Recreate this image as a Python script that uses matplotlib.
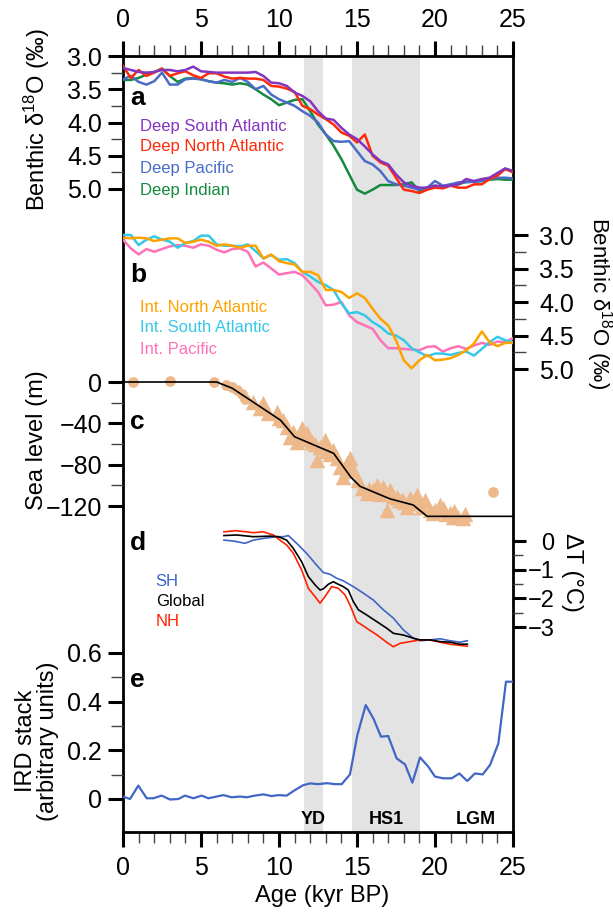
import numpy as np
import matplotlib.pyplot as plt

plt.rcParams['font.family'] = ['Liberation Sans', 'DejaVu Sans']
plt.rcParams['mathtext.fontset'] = 'custom'
plt.rcParams['mathtext.rm'] = 'Liberation Sans'
plt.rcParams['mathtext.it'] = 'Liberation Sans:italic'

# ---- data ----
age_ab = [0, 0.5, 1, 1.5, 2, 2.5, 3, 3.5, 4, 4.5, 5, 5.5, 6, 6.5, 7, 7.5, 8, 8.5, 9, 9.5,
          10, 10.5, 11, 11.5, 12, 12.5, 13, 13.5, 14, 14.5, 15, 15.5, 16, 16.5, 17, 17.5,
          18, 18.5, 19, 19.5, 20, 20.5, 21, 21.5, 22, 22.5, 23, 23.5, 24, 24.5, 25]

deep_s_atl = [3.18, 3.21, 3.24, 3.25, 3.24, 3.21, 3.21, 3.23, 3.21, 3.16, 3.23, 3.24, 3.25, 3.25,
              3.25, 3.25, 3.25, 3.24, 3.30, 3.40, 3.41, 3.45, 3.55, 3.60, 3.68, 3.83, 3.94, 3.96,
              4.08, 4.18, 4.25, 4.36, 4.48, 4.58, 4.63, 4.78, 4.90, 4.95, 4.98, 4.98, 4.95, 4.96,
              4.95, 4.93, 4.85, 4.88, 4.85, 4.83, 4.76, 4.69, 4.73]
deep_n_atl = [3.15, 3.33, 3.21, 3.30, 3.25, 3.19, 3.30, 3.26, 3.23, 3.29, 3.33, 3.26, 3.26, 3.31,
              3.34, 3.33, 3.34, 3.34, 3.36, 3.45, 3.46, 3.49, 3.54, 3.75, 3.80, 3.88, 3.95, 4.03,
              4.15, 4.20, 4.30, 4.18, 4.50, 4.60, 4.65, 4.83, 5.01, 5.03, 5.06, 5.01, 4.98, 4.99,
              4.95, 4.98, 4.98, 4.93, 4.93, 4.85, 4.80, 4.70, 4.75]
deep_pac = [3.35, 3.30, 3.39, 3.43, 3.38, 3.25, 3.43, 3.43, 3.35, 3.34, 3.35, 3.38, 3.40, 3.36,
            3.39, 3.33, 3.39, 3.50, 3.45, 3.58, 3.65, 3.70, 3.75, 3.83, 3.90, 4.00, 4.18, 4.28,
            4.29, 4.28, 4.43, 4.58, 4.63, 4.73, 4.88, 4.93, 4.95, 4.98, 5.01, 4.98, 4.88, 4.95,
            4.93, 4.90, 4.90, 4.89, 4.88, 4.85, 4.83, 4.83, 4.84]
deep_ind = [3.36, 3.36, 3.33, 3.28, 3.24, 3.19, 3.30, 3.39, 3.34, 3.33, 3.35, 3.38, 3.40, 3.41,
            3.43, 3.41, 3.43, 3.50, 3.58, 3.65, 3.74, 3.70, 3.66, 3.65, 3.83, 4.03, 4.18, 4.35,
            4.55, 4.78, 5.01, 5.07, 5.01, 4.94, 4.94, 4.94, 4.93, 4.90, 5.03, 4.98, 4.95, 4.98,
            4.93, 4.93, 4.89, 4.89, 4.88, 4.86, 4.85, 4.86, 4.86]

int_n_atl = [3.04, 3.05, 3.04, 3.05, 3.09, 3.07, 3.05, 3.05, 3.12, 3.10, 3.07, 3.10, 3.16, 3.14,
             3.16, 3.19, 3.16, 3.16, 3.35, 3.29, 3.39, 3.42, 3.44, 3.55, 3.55, 3.60, 3.82, 3.82,
             3.85, 3.94, 3.87, 3.94, 4.10, 4.25, 4.35, 4.57, 4.87, 4.99, 4.87, 4.79, 4.87, 4.86,
             4.84, 4.79, 4.72, 4.62, 4.44, 4.60, 4.66, 4.61, 4.61]
int_s_atl = [3.00, 3.00, 3.15, 3.07, 3.02, 3.07, 3.10, 3.19, 3.12, 3.09, 3.01, 3.01, 3.14, 3.16,
             3.16, 3.17, 3.14, 3.24, 3.35, 3.30, 3.37, 3.36, 3.42, 3.55, 3.62, 3.70, 3.75, 3.82,
             4.02, 4.17, 4.15, 4.20, 4.30, 4.37, 4.47, 4.50, 4.57, 4.69, 4.75, 4.81, 4.77, 4.77,
             4.79, 4.76, 4.74, 4.80, 4.70, 4.60, 4.52, 4.57, 4.60]
int_pac = [3.07, 3.20, 3.29, 3.21, 3.25, 3.21, 3.17, 3.15, 3.16, 3.19, 3.14, 3.16, 3.22, 3.26,
           3.21, 3.20, 3.25, 3.47, 3.41, 3.50, 3.59, 3.57, 3.55, 3.60, 3.72, 3.85, 4.05, 4.04,
           4.00, 4.20, 4.30, 4.35, 4.40, 4.57, 4.69, 4.69, 4.70, 4.71, 4.72, 4.67, 4.66, 4.74,
           4.69, 4.66, 4.70, 4.65, 4.61, 4.64, 4.59, 4.60, 4.54]

sl_age = [0, 6.0, 7.0, 10.1, 11.0, 13.5, 14.6, 15.2, 17.1, 18.6, 19.5, 25]
sl_val = [0, 0, -6, -37, -53, -69, -92, -101, -113, -119, -130, -130]
circ_age = [0.66, 3.0, 5.83, 6.6, 7.0, 7.3, 7.6, 7.8, 23.7]
circ_val = [0, 1, 0, -3, -5, -8, -12, -16, -106]
tri_age = [8.35, 8.78, 9.0, 9.32, 9.85, 10.0, 10.28, 10.49, 10.7, 10.92, 11.13, 11.3, 11.45,
           11.77, 11.9, 12.09, 12.3, 12.42, 12.63, 12.95, 13.0, 13.16, 13.3, 13.48, 13.7, 13.91,
           14.12, 14.3, 14.34, 14.55, 14.76, 15.09, 15.3, 15.62, 15.8, 16.05, 16.26, 16.5, 16.69,
           16.9, 17.12, 17.3, 17.54, 17.7, 17.86, 18.0, 18.18, 18.4, 18.61, 18.82, 19.0, 19.15,
           19.36, 19.68, 19.9, 20.0, 20.32, 20.53, 20.7, 20.96, 21.18, 21.2, 21.5, 21.82, 21.9]
tri_val = [-19, -25.5, -20.7, -30.3, -28.7, -35, -36.8, -43.2, -52.9, -48.1, -57.8, -52, -44.9,
           -49.7, -55, -57.8, -60, -75.5, -62.6, -56.1, -67, -65.8, -70, -65.8, -73.9, -81.9,
           -91.6, -86, -78.7, -73.9, -85.2, -94.9, -102.9, -107.8, -104, -104.6, -99.7, -108,
           -101.3, -123.9, -104.6, -110, -111, -114, -114.2, -116, -120.7, -112.6, -115.8,
           -109.4, -117, -120.7, -114.2, -123.9, -127, -123.9, -119.1, -122.3, -128, -127.1,
           -130.4, -125, -130.4, -132, -128]

gl_age = [6.47, 7.29, 8.35, 9.42, 9.96, 10.49, 10.92, 11.45, 11.88, 12.31, 12.63, 12.84, 13.16,
          13.48, 13.8, 14.12, 14.44, 14.76, 15.09, 15.62, 16.26, 16.9, 17.33, 17.97, 18.61,
          19.04, 19.68, 20.32, 20.96, 21.6, 22.07]
gl_val = [0.19, 0.21, 0.15, 0.17, 0.15, 0.03, -0.26, -0.72, -1.24, -1.53, -1.71, -1.67, -1.51,
          -1.42, -1.51, -1.59, -1.71, -2.11, -2.40, -2.58, -2.81, -3.04, -3.22, -3.28, -3.39,
          -3.45, -3.45, -3.51, -3.53, -3.60, -3.60]
sh_age = [6.47, 7.07, 7.82, 8.35, 8.99, 9.85, 10.28, 10.6, 11.13, 11.77, 12.41, 12.84, 13.27,
          13.7, 14.12, 14.76, 15.41, 16.05, 16.69, 17.33, 17.97, 18.61, 19.04, 19.68, 20.32,
          20.96, 21.6, 22.07]
sh_val = [0.03, 0.0, -0.08, 0.03, 0.09, 0.15, 0.15, 0.19, -0.08, -0.43, -0.84, -1.10, -1.16,
          -1.30, -1.39, -1.59, -1.82, -2.06, -2.40, -2.69, -3.10, -3.39, -3.48, -3.45, -3.41,
          -3.48, -3.53, -3.48]
nh_age = [6.47, 7.18, 7.93, 8.35, 8.99, 9.64, 10.06, 10.49, 10.92, 11.45, 11.88, 12.31, 12.63,
          12.95, 13.38, 13.8, 14.23, 14.55, 14.98, 15.62, 16.26, 16.9, 17.33, 17.76, 18.4,
          19.04, 19.68, 20.32, 20.96, 21.6, 22.07]
nh_val = [0.32, 0.36, 0.32, 0.29, 0.32, 0.21, 0.03, -0.14, -0.43, -1.01, -1.65, -1.94, -2.17,
          -1.94, -1.59, -1.65, -1.88, -2.23, -2.81, -3.04, -3.27, -3.53, -3.69, -3.57, -3.51,
          -3.45, -3.45, -3.53, -3.60, -3.64, -3.67]

ird_age = [0, 0.45, 0.98, 1.52, 1.94, 2.48, 3.01, 3.55, 3.97, 4.51, 5.04, 5.47, 6.0, 6.43, 6.97,
           7.5, 7.93, 8.46, 9.0, 9.53, 9.96, 10.49, 11.03, 11.56, 11.99, 12.52, 13.06, 13.59,
           14.02, 14.55, 15.02, 15.56, 16.05, 16.54, 17.0, 17.54, 18.08, 18.55, 19.04, 19.57,
           20.0, 20.53, 21.07, 21.56, 22.07, 22.56, 23.06, 23.53, 24.06, 24.55, 25.0]
ird_val = [0.01, 0.0, 0.055, 0.003, 0.003, 0.014, -0.002, 0.0, 0.014, 0.003, 0.014, 0.003, 0.01,
           0.016, 0.007, 0.01, 0.007, 0.014, 0.019, 0.012, 0.016, 0.014, 0.037, 0.057, 0.064,
           0.061, 0.065, 0.061, 0.061, 0.101, 0.262, 0.386, 0.331, 0.256, 0.259, 0.167, 0.142,
           0.067, 0.171, 0.133, 0.092, 0.085, 0.085, 0.105, 0.074, 0.105, 0.101, 0.14, 0.228,
           0.482, 0.482]

yd = (11.6, 12.8)
hs1 = (14.7, 19.05)

# ---- layout (pixels) ----
W, H = 613, 915
L, R, T, B = 123, 513, 56, 832
rect = [L / W, 1 - B / H, (R - L) / W, (B - T) / H]
TS = 18  # tick label size

fig = plt.figure(figsize=(W / 100, H / 100), dpi=100)

main = fig.add_axes(rect)
main.set_xlim(0, 25)
main.set_ylim(B, T)  # y in pixel rows, for annotation placement
main.set_yticks([])
main.set_xticks([0, 5, 10, 15, 20, 25])
main.set_xticks(range(26), minor=True)
main.tick_params(axis='x', which='both', top=True, bottom=True, labeltop=True,
                 labelbottom=True, direction='out', labelsize=TS)
main.tick_params(axis='x', which='major', length=11, width=2.2, pad=6)
main.tick_params(axis='x', which='minor', length=8, width=1, color='#444444')
for s in main.spines.values():
    s.set_linewidth(2)
main.axvspan(*yd, color='#e3e3e3', lw=0, zorder=0)
main.axvspan(*hs1, color='#e3e3e3', lw=0, zorder=0)


def panel(v0, y0, v1, y1, side):
    a = fig.add_axes(rect)
    slope = (v1 - v0) / (y1 - y0)
    a.set_xlim(0, 25)
    a.set_ylim(v0 + (B - y0) * slope, v0 + (T - y0) * slope)
    a.patch.set_visible(False)
    for s in a.spines.values():
        s.set_visible(False)
    a.xaxis.set_visible(False)
    a.yaxis.set_ticks_position(side)
    a.tick_params(axis='y', which='both', direction='out', labelsize=TS)
    a.tick_params(axis='y', which='major', length=11, width=2.2, pad=4)
    a.tick_params(axis='y', which='minor', length=9, width=1, color='#444444')
    return a


# a: deep benthic d18O
pa = panel(3.0, 56, 5.0, 189, 'left')
pa.set_yticks([3.0, 3.5, 4.0, 4.5, 5.0], labels=['3.0', '3.5', '4.0', '4.5', '5.0'])
pa.set_yticks([3.25, 3.75, 4.25, 4.75], minor=True)
for vals, c in [(deep_ind, '#138a3e'), (deep_pac, '#4a6cc8'),
                (deep_n_atl, '#ff2a0a'), (deep_s_atl, '#8334c0')]:
    pa.plot(age_ab, vals, color=c, lw=1.8)

# b: intermediate benthic d18O
pb = panel(3.0, 235, 5.0, 369, 'right')
pb.set_yticks([3.0, 3.5, 4.0, 4.5, 5.0], labels=['3.0', '3.5', '4.0', '4.5', '5.0'])
pb.set_yticks([3.25, 3.75, 4.25, 4.75], minor=True)
pb.tick_params(axis='y', which='major', pad=8)
for vals, c in [(int_pac, '#ff72b8'), (int_s_atl, '#36c8e8'), (int_n_atl, '#ffa200')]:
    pb.plot(age_ab, vals, color=c, lw=1.8)

# c: sea level
pc = panel(0, 382, -120, 506, 'left')
pc.set_yticks([0, -40, -80, -120])
pc.set_yticks([-20, -60, -100], minor=True)
pc.scatter(tri_age, tri_val, marker='^', s=125, color='#edb98b', lw=0, zorder=1)
pc.scatter(circ_age, circ_val, marker='o', s=60, color='#edb98b', lw=0, zorder=1)
pc.plot(sl_age, sl_val, color='black', lw=1.2, zorder=3)

# d: temperature stack
pd_ = panel(0, 541, -3, 627, 'right')
pd_.set_yticks([0, -1, -2, -3])
pd_.set_yticks([-0.5, -1.5, -2.5], minor=True)
pd_.tick_params(axis='y', which='major', length=9, pad=21, labelsize=17)
pd_.tick_params(axis='y', which='minor', length=7)
plt.setp(pd_.get_yticklabels(), ha='right')
pd_.plot(sh_age, sh_val, color='#3e64c8', lw=1.2)
pd_.plot(nh_age, nh_val, color='#ff2200', lw=1.2)
pd_.plot(gl_age, gl_val, color='black', lw=1.2)

# e: IRD stack
pe = panel(0, 799, 0.6, 653, 'left')
pe.set_yticks([0, 0.2, 0.4, 0.6], labels=['0', '0.2', '0.4', '0.6'])
pe.set_yticks([0.1, 0.3, 0.5], minor=True)
pe.plot(ird_age, ird_val, color='#4266c6', lw=1.6)

# panel letters and in-plot labels (main axes: x=age, y=pixel row)
for lab, y in [('a', 98), ('b', 275), ('c', 422), ('d', 543), ('e', 680)]:
    main.text(0.45, y, lab, fontsize=19, fontweight='bold', va='center', ha='left')

for txt, y, c in [('Deep South Atlantic', 127, '#8334c0'), ('Deep North Atlantic', 147, '#ff2a0a'),
                  ('Deep Pacific', 169, '#4a6cc8'), ('Deep Indian', 190, '#138a3e'),
                  ('Int. North Atlantic', 307, '#ffa200'), ('Int. South Atlantic', 328, '#36c8e8'),
                  ('Int. Pacific', 349, '#ff72b8'),
                  ('SH', 581, '#3e64c8'), ('Global', 602, 'black'), ('NH', 622, '#ff2200')]:
    x = 2.1 if txt in ('SH', 'Global', 'NH') else 1.08
    main.text(x, y, txt, color=c, fontsize=12, va='center', ha='left')

for txt, x in [('YD', 12.2), ('HS1', 16.85), ('LGM', 22.6)]:
    main.text(x, 820, txt, fontsize=13, fontweight='bold', ha='center', va='center')


def fx(px):
    return px / W


def fy(py):
    return 1 - py / H


fig.text(fx(37), fy(120), r'Benthic δ$^{18}$O (‰)', rotation=90, fontsize=17,
         ha='center', va='center')
fig.text(fx(37), fy(440), 'Sea level (m)', rotation=90, fontsize=17, ha='center', va='center')
fig.text(fx(37), fy(741), 'IRD stack\n(arbitrary units)', rotation=90, fontsize=17,
         ha='center', va='center', multialignment='center', linespacing=1.0)
fig.text(fx(599), fy(303), r'Benthic δ$^{18}$O (‰)', rotation=270, fontsize=16,
         ha='center', va='center')
fig.text(fx(572), fy(572), 'ΔT (°C)', rotation=270, fontsize=17, ha='center', va='center')
fig.text(fx(322), fy(896), 'Age (kyr BP)', fontsize=17, ha='center', va='center')

fig.savefig('out.png', dpi=100)
